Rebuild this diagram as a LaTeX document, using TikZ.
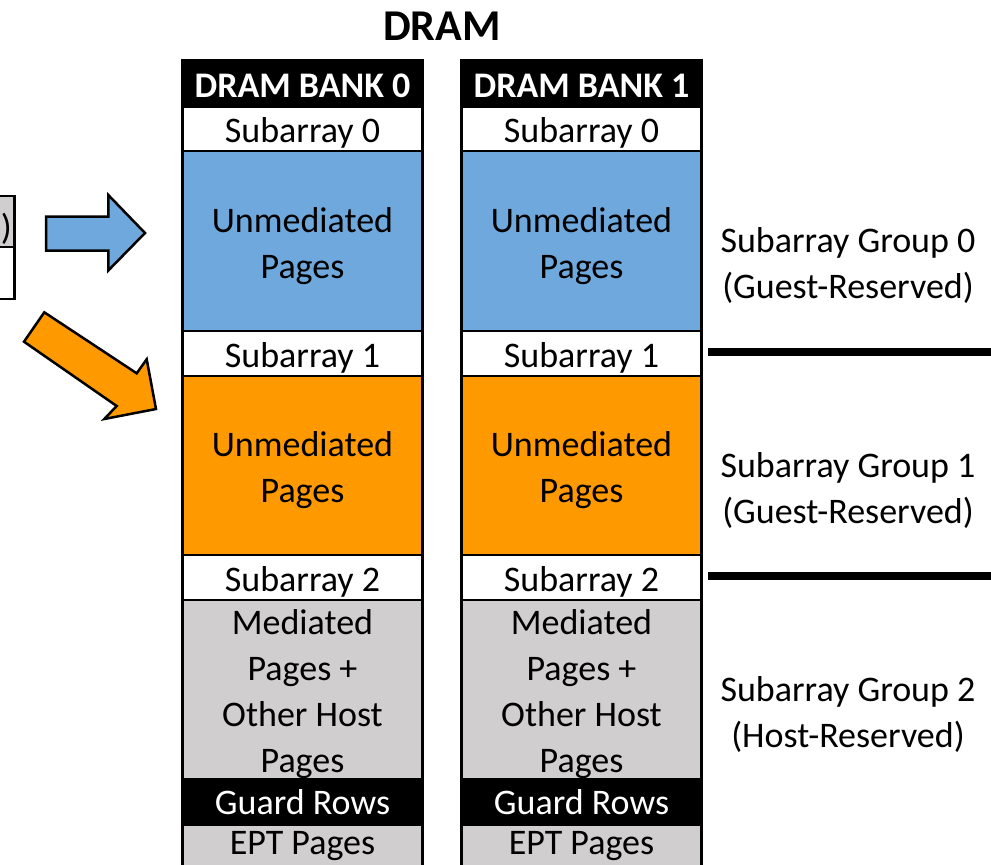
\documentclass[tikz,border=0pt]{standalone}
\usepackage{fontspec}
\setmainfont{Carlito}
\definecolor{cblue}{HTML}{6FA8DC}
\definecolor{corange}{HTML}{FF9900}
\definecolor{cgray}{HTML}{D0CECE}
\tikzset{
  cell/.style={draw=black, line width=2.5pt, minimum width=240pt, inner sep=0pt},
  lbl/.style={align=center, inner sep=0pt, font=\fontsize{36}{46}\selectfont},
  txt/.style={lbl, yshift=-4pt},
  htxt/.style={lbl, text=white, font=\bfseries\fontsize{36}{46}\selectfont, yshift=-2pt},
  sep/.style={line width=8pt},
  fatarrow/.style={draw=black, line width=2.5pt, line join=miter}
}
\begin{document}
\begin{tikzpicture}[x=1pt, y=-1pt]
\useasboundingbox (0,0) rectangle (991,865);
\clip (0,0) rectangle (991,865);
% title
\node[inner sep=0pt, font=\bfseries\fontsize{44}{50}\selectfont] (title) at (442,26) {DRAM};
% bank columns
\foreach \bx/\bn in {302.5/0, 581.5/1}{
  \node[cell, fill=black, minimum height=47pt] (h\bn) at (\bx,83.5) {};
  \node[htxt] (th\bn) at (h\bn.center) {DRAM BANK \bn};
  \node[cell, fill=white, minimum height=44pt] (s0\bn) at (\bx,129) {};
  \node[txt] (ts0\bn) at (s0\bn.center) {Subarray 0};
  \node[cell, fill=cblue, minimum height=180pt] (u0\bn) at (\bx,241) {};
  \node[txt, yshift=-1pt] (tu0\bn) at (u0\bn.center) {Unmediated\\Pages};
  \node[cell, fill=white, minimum height=45pt] (s1\bn) at (\bx,353.5) {};
  \node[txt] (ts1\bn) at (s1\bn.center) {Subarray 1};
  \node[cell, fill=corange, minimum height=179pt] (u1\bn) at (\bx,465.5) {};
  \node[txt, yshift=-1pt] (tu1\bn) at (u1\bn.center) {Unmediated\\Pages};
  \node[cell, fill=white, minimum height=45pt] (s2\bn) at (\bx,577.5) {};
  \node[txt] (ts2\bn) at (s2\bn.center) {Subarray 2};
  \node[cell, fill=cgray, minimum height=179pt] (m\bn) at (\bx,689.5) {};
  \node[txt, yshift=-1pt] (tm\bn) at (m\bn.center) {Mediated\\Pages +\\Other Host\\Pages};
  \node[cell, fill=black, minimum height=46pt] (g\bn) at (\bx,802) {};
  \node[lbl, text=white] (tg\bn) at (g\bn.center) {Guard Rows};
  \node[cell, fill=cgray, minimum height=46pt] (e\bn) at (\bx,848) {};
  \node[lbl, yshift=1.5pt] (te\bn) at (e\bn.center) {EPT Pages};
}
% group separators
\coordinate (l1a) at (708,352);
\coordinate (l1b) at (995,352);
\coordinate (l2a) at (708,576);
\coordinate (l2b) at (995,576);
\draw[sep] (l1a) -- (l1b);
\draw[sep] (l2a) -- (l2b);
% group labels
\node[lbl] (grp0) at (848,265.5) {Subarray Group 0\\(Guest-Reserved)};
\node[lbl] (grp1) at (848,490) {Subarray Group 1\\(Guest-Reserved)};
\node[lbl] (grp2) at (848,714) {Subarray Group 2\\(Host-Reserved)};
% left partial boxes
\draw[line width=2.5pt, fill=cgray] (-20,196) rectangle (14.5,247);
\draw[line width=2.5pt, fill=white] (-20,247) rectangle (14.5,299);
\node[anchor=east, inner sep=0pt, font=\fontsize{36}{46}\selectfont] (paren) at (12,229) {)};
% blue arrow
\draw[fatarrow, fill=cblue] (46,216.5) -- (108.3,216.5) -- (108.3,195) -- (145,233) -- (108.3,270.5)
  -- (108.3,250.5) -- (46,250.5) -- cycle;
% orange arrow
\draw[fatarrow, fill=corange] (44.3,312.3) -- (136.7,373.3) -- (146.7,359.3) -- (156,409)
  -- (104.3,419) -- (116.7,406) -- (24,341.7) -- cycle;
\end{tikzpicture}
\end{document}
